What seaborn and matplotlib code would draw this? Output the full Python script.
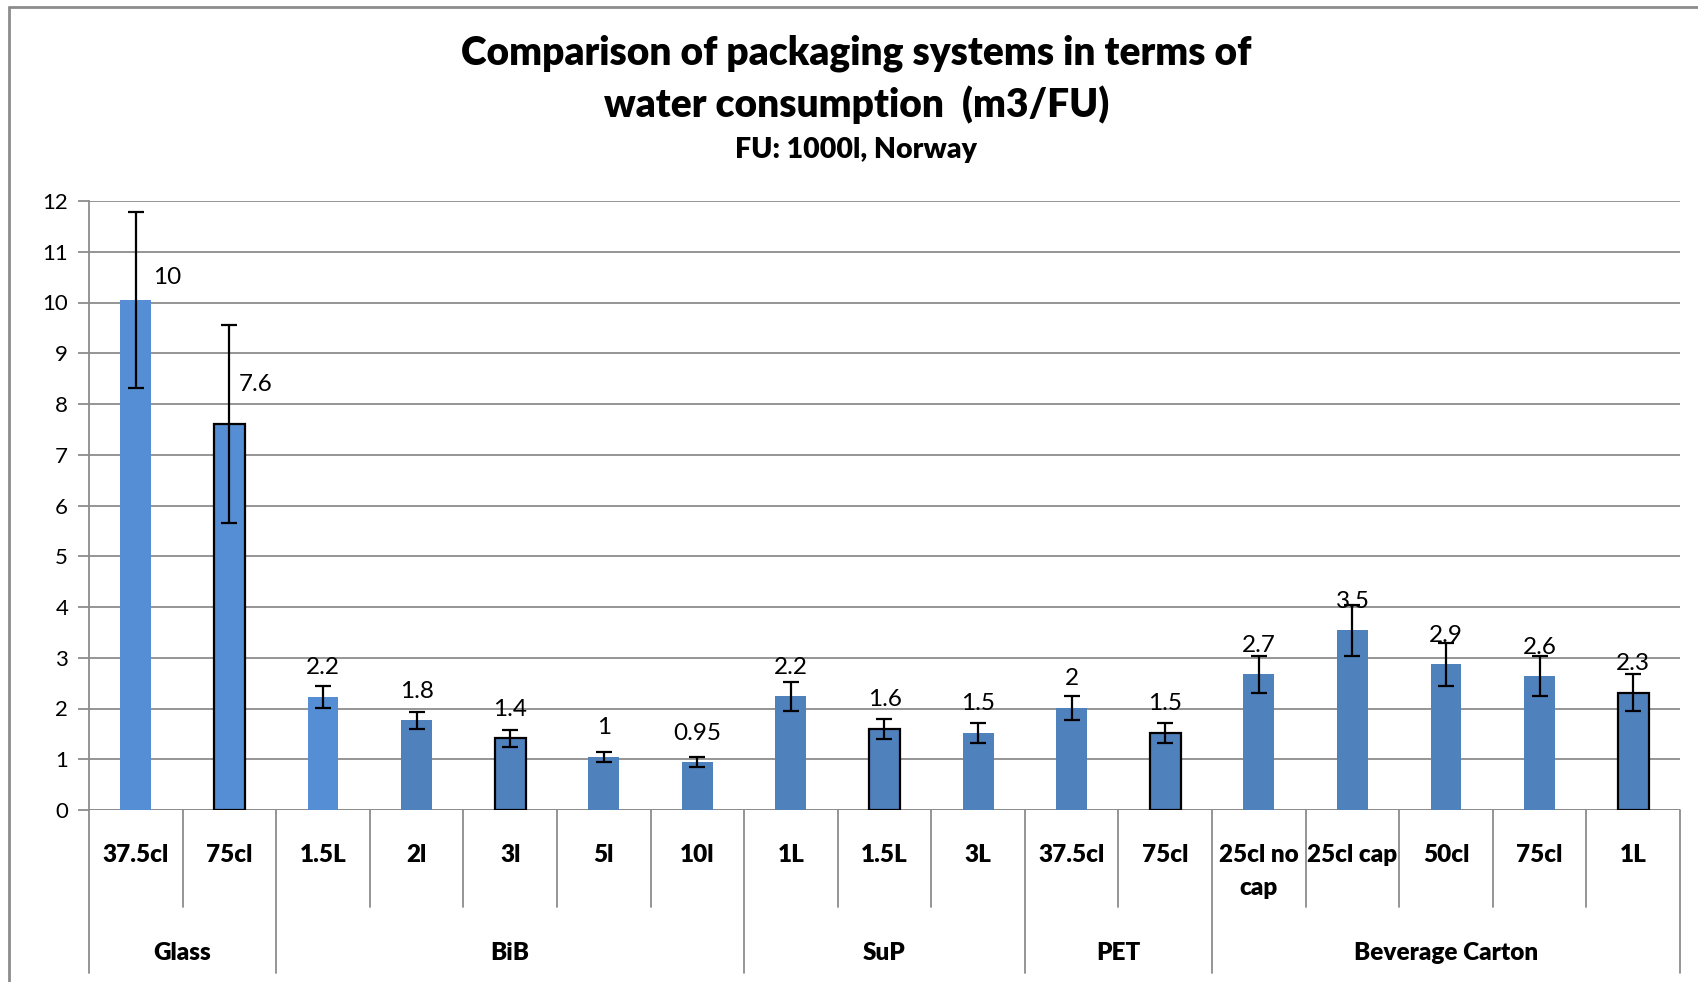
import matplotlib
matplotlib.use("Agg")
import matplotlib.pyplot as plt
import matplotlib.transforms as mtransforms
import seaborn as sns
import pandas as pd
import numpy as np

# ---- data ----
groups = ["Glass", "BiB", "SuP", "PET", "Beverage Carton"]
group_sizes = [2, 5, 3, 2, 5]
labels = ["37.5cl", "75cl", "1.5L", "2l", "3l", "5l", "10l",
          "1L", "1.5L", "3L", "37.5cl", "75cl",
          "25cl no\ncap", "25cl cap", "50cl", "75cl", "1L"]
values = [10.05, 7.61, 2.23, 1.77, 1.41, 1.05, 0.94,
          2.24, 1.60, 1.52, 2.01, 1.52,
          2.67, 3.54, 2.87, 2.64, 2.31]
errors = [1.73, 1.95, 0.22, 0.17, 0.16, 0.10, 0.10,
          0.28, 0.20, 0.20, 0.24, 0.19,
          0.36, 0.50, 0.43, 0.40, 0.36]
value_labels = ["10", "7.6", "2.2", "1.8", "1.4", "1", "0.95",
                "2.2", "1.6", "1.5", "2", "1.5",
                "2.7", "3.5", "2.9", "2.6", "2.3"]

LIGHT = "#558ED5"
MID = "#4F81BD"
fill_colors = [LIGHT, LIGHT, LIGHT, MID, MID, MID, MID,
               MID, MID, MID, MID, MID,
               MID, MID, MID, MID, MID]
outlined = [False, True, False, False, True, False, False,
            False, True, False, False, True,
            False, False, False, False, True]

group_of = []
for g, n in zip(groups, group_sizes):
    group_of += [g] * n
keys = [f"{i:02d}" for i in range(len(labels))]
df = pd.DataFrame({"key": keys, "value": values, "group": group_of})

sns.set_theme(style="white")
FONT = ["Lato", "DejaVu Sans"]
plt.rcParams["font.family"] = FONT
plt.rcParams["text.color"] = "black"

fig = plt.figure(figsize=(16.99, 9.82), dpi=100)
W, H = 1699, 982
ax_left, ax_right, ax_top, ax_bot = 89, 1680, 201, 810
ax = fig.add_axes([ax_left / W, 1 - ax_bot / H, (ax_right - ax_left) / W, (ax_bot - ax_top) / H])

sns.barplot(data=df, x="key", y="value", hue="key", order=keys,
            palette=dict(zip(keys, fill_colors)), legend=False,
            width=0.33, ax=ax, errorbar=None, saturation=1)

for patch, o in zip(ax.patches, outlined):
    if o:
        patch.set_edgecolor("black")
        patch.set_linewidth(1.6)
    else:
        patch.set_edgecolor("none")
    patch.set_zorder(3)

x = np.arange(len(labels))
ax.errorbar(x, values, yerr=errors, fmt="none", ecolor="black",
            elinewidth=1.6, capsize=6, capthick=1.6, zorder=4)

ax.set_xlim(-0.5, len(labels) - 0.5)
ax.set_ylim(0, 12)
ax.set_yticks(range(0, 13))
ax.yaxis.grid(True, color="#8c8c8c", linewidth=1.3)
ax.set_axisbelow(True)
for s in ["top", "right", "bottom"]:
    ax.spines[s].set_visible(False)
ax.spines["left"].set_color("#8c8c8c")
ax.spines["left"].set_linewidth(1.3)
ax.tick_params(axis="y", which="major", left=True, length=8, width=1.3,
               color="#8c8c8c", labelsize=16, pad=7, labelcolor="black")
ax.set_xticks([])
ax.set_xlabel("")
ax.set_ylabel("")
for t in ax.get_yticklabels():
    t.set_fontfamily(FONT)

# baseline
ax.axhline(0, color="#8c8c8c", linewidth=1.3, zorder=2)

# value labels
px_per_unit = (ax_bot - ax_top) / 12.0
special = {0: (0.33, 0.45), 1: (0.28, 0.78)}
for i, (v, lab) in enumerate(zip(values, value_labels)):
    if i in special:
        dx, dy = special[i]
        ax.text(i + dx, v + dy, lab, ha="center", va="center", fontsize=17.5,
                color="black", zorder=5)
    else:
        ax.text(i, v + 29 / px_per_unit, lab, ha="center", va="center",
                fontsize=17.5, color="black", zorder=5)

# hierarchical x axis
trans = mtransforms.blended_transform_factory(ax.transData, ax.transAxes)
ax_h = ax_bot - ax_top
def ay(px_below):
    return -px_below / ax_h

sep_color = "#8c8c8c"
boundaries = [0]
for n in group_sizes:
    boundaries.append(boundaries[-1] + n)
group_bounds = set(boundaries)
for b in range(len(labels) + 1):
    xb = b - 0.5
    bottom = ay(163) if b in group_bounds else ay(97)
    ax.plot([xb, xb], [0, bottom], transform=trans, color=sep_color,
            linewidth=1.3, clip_on=False)

for i, lab in enumerate(labels):
    ax.text(i, ay(34), lab, transform=trans, ha="center", va="top",
            fontsize=17.5, fontweight="heavy", color="black", linespacing=1.6)

for gi, g in enumerate(groups):
    c = (boundaries[gi] + boundaries[gi + 1] - 1) / 2
    ax.text(c, ay(143), g, transform=trans, ha="center", va="center",
            fontsize=17.5, fontweight="heavy", color="black")

# titles
fig.text(0.504, 1 - 53 / H, "Comparison of packaging systems in terms of",
         ha="center", va="center", fontsize=28, fontweight="heavy", color="black")
fig.text(0.504, 1 - 105 / H, "water consumption  (m3/FU)",
         ha="center", va="center", fontsize=28, fontweight="heavy", color="black")
fig.text(0.504, 1 - 150 / H, "FU: 1000l, Norway",
         ha="center", va="center", fontsize=20.5, fontweight="heavy", color="black")

# chart border
fig.add_artist(plt.Line2D([9 / W, 1.0], [1 - 7 / H, 1 - 7 / H],
                          transform=fig.transFigure, color="#8c8c8c", linewidth=2))
fig.add_artist(plt.Line2D([9 / W, 9 / W], [1 - 7 / H, 0],
                          transform=fig.transFigure, color="#8c8c8c", linewidth=2))

fig.savefig("out.png", dpi=100)
